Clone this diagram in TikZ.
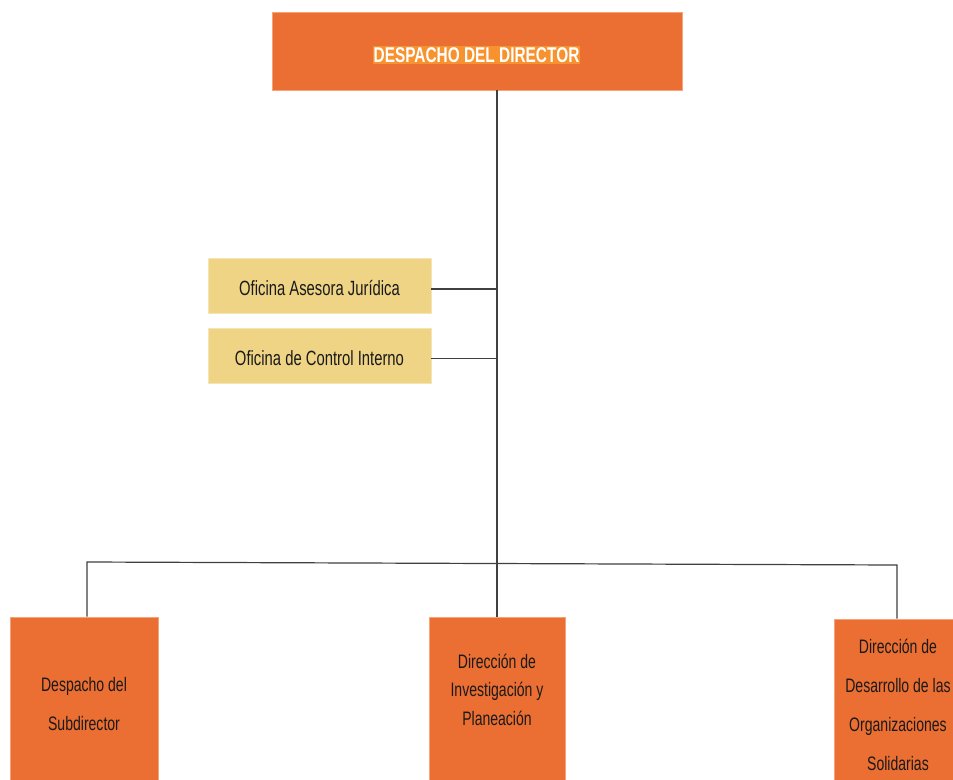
\documentclass[tikz,border=0pt]{standalone}
\usepackage{fontspec}
\setmainfont{Liberation Sans}
\newfontfamily\nar[FakeStretch=0.72]{Liberation Sans}
\definecolor{orgbox}{HTML}{EB6E32}
\definecolor{orgedge}{HTML}{F4A37A}
\definecolor{orghl}{HTML}{F7922E}
\definecolor{ylwbox}{HTML}{EED484}
\definecolor{ylwedge}{HTML}{F6E4B4}
\definecolor{lnk}{HTML}{404040}
\definecolor{txt}{HTML}{1A1A1A}
\begin{document}
\begin{tikzpicture}[x=1pt,y=-1pt,
  obox/.style={draw=orgedge, line width=0.8pt, fill=orgbox, inner sep=0pt, text=txt, align=center},
  ybox/.style={draw=ylwedge, line width=0.8pt, fill=ylwbox, inner sep=0pt, text=txt,
    minimum width=223pt, minimum height=55pt},
  ytext/.style={text=txt, inner sep=0pt, font=\nar\fontsize{20.6}{23}\selectfont},
  link/.style={draw=lnk, line width=1.2pt}]
\useasboundingbox (0,0) rectangle (953,779);
\fill[white] (0,0) rectangle (953,779);
% top box
\node[obox, minimum width=410pt, minimum height=78pt] (top) at (477,51) {};
\node[fill=orghl, inner sep=1pt, text=white, font=\nar\bfseries\fontsize{21.4}{23}\selectfont] (toptxt) at (476.5,55) {DESPACHO DEL DIRECTOR};
% staff boxes
\node[ybox] (jur) at (319.5,285.5) {};
\node[ytext] (jurtxt) at (319.5,288) {Oficina Asesora Jurídica};
\node[ybox] (ci) at (319.5,356) {};
\node[ytext] (citxt) at (319.5,358) {Oficina de Control Interno};
% bottom boxes
\node[obox, minimum width=148pt, minimum height=172pt] (sub) at (84,703) {};
\node[font=\nar\fontsize{19.5}{39}\selectfont, text=txt, align=center] (subtxt) at (84,704.5) {Despacho del\\Subdirector};
\node[obox, minimum width=136pt, minimum height=172pt] (inv) at (497,703) {};
\node[font=\nar\fontsize{19.5}{28.5}\selectfont, text=txt, align=center] (invtxt) at (497,689.5) {Dirección de\\Investigación y\\Planeación};
\node[obox, minimum width=119pt, minimum height=172pt] (org) at (893.5,705) {};
\node[font=\nar\fontsize{19.5}{39}\selectfont, text=txt, align=center] (orgtxt) at (898,705) {Dirección de\\Desarrollo de las\\Organizaciones\\Solidarias};
% connectors
\coordinate (busL) at (87,562);
\coordinate (busR) at (897,565);
\draw[link] (top.south -| inv.north) -- (inv.north);
\draw[link] ([yshift=-3.5pt]jur.east) -- ([yshift=-3.5pt]jur.east -| inv.north);
\draw[link] ([yshift=-2.5pt]ci.east) -- ([yshift=-2.5pt]ci.east -| inv.north);
\draw[link] (busL |- sub.north) -- (busL) -- (busR) -- (busR |- org.north);
\end{tikzpicture}
\end{document}
